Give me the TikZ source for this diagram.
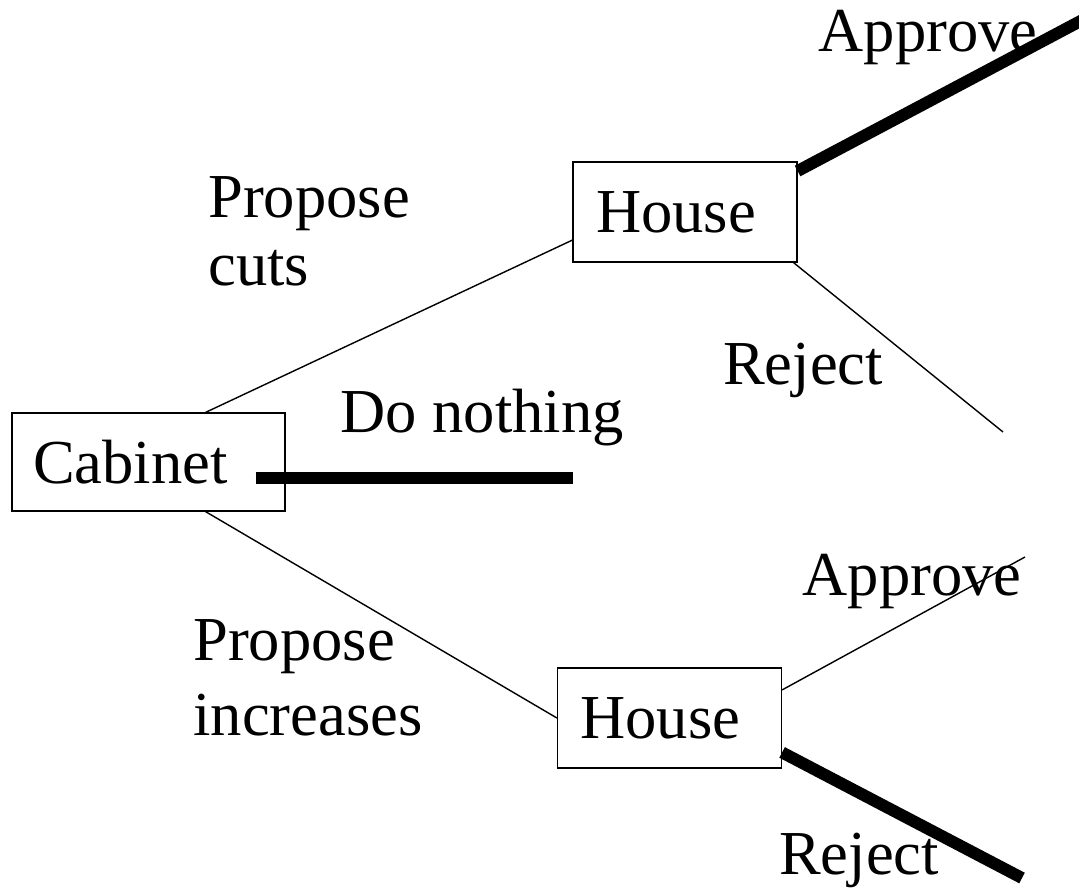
\documentclass[tikz,border=0pt]{standalone}
\usepackage{fontspec}
\setmainfont{Liberation Serif}
\usetikzlibrary{positioning}

\tikzset{
  player/.style={draw, line width=.7pt, inner ysep=0pt, inner xsep=.46cm, text width=3.56cm,
    align=left, minimum height=2cm, font=\fontsize{35.6}{40}\selectfont},
  movelbl/.style={inner sep=0pt, align=left, font=\fontsize{35.6}{38.6}\selectfont},
  move/.style={line width=.8pt},
  eqmove/.style={line width=6.8pt}
}

\begin{document}
\begin{tikzpicture}[x=0.02cm, y=-0.02cm]
  \useasboundingbox (0,0) rectangle (1079,896);

  \node[player, inner xsep=.42cm, text width=4.62cm, minimum height=1.96cm] (cab) at (148.5,462) {Cabinet};
  \node[player] (hup) at (685,212) {House};
  \node[player] (hdown) at (669.5,718) {House};

  \coordinate (nothing) at (573,478);
  \coordinate (upyes) at (1090,16);
  \coordinate (upno) at (1003,432);
  \coordinate (downyes) at (1025,557);
  \coordinate (downno) at (1022,878);

  \draw[move] (cab.41) -- (hup.194);
  \draw[move] (cab.-41) -- (hdown.west);
  \draw[eqmove] (cab.east |- nothing) ++(-30,0) -- (nothing);
  \draw[eqmove] (hup.20) -- (upyes);
  \draw[move] (hup.-25) -- (upno);
  \draw[move] (hdown.14) -- (downyes);
  \draw[eqmove] (hdown.-17) -- (downno);

  \node[movelbl, anchor=west] (cutslbl) at (208,231) {Propose\\cuts};
  \node[movelbl, anchor=west, font=\fontsize{35.6}{42.5}\selectfont] (inclbl) at (193,678) {Propose\\increases};
  \node[movelbl] (nothinglbl) at (482,418) {Do nothing};
  \node[movelbl] (upyeslbl) at (928,38) {Approve};
  \node[movelbl] (upnolbl) at (803,370) {Reject};
  \node[movelbl] (downyeslbl) at (912,582) {Approve};
  \node[movelbl] (downnolbl) at (859,860) {Reject};
\end{tikzpicture}
\end{document}
